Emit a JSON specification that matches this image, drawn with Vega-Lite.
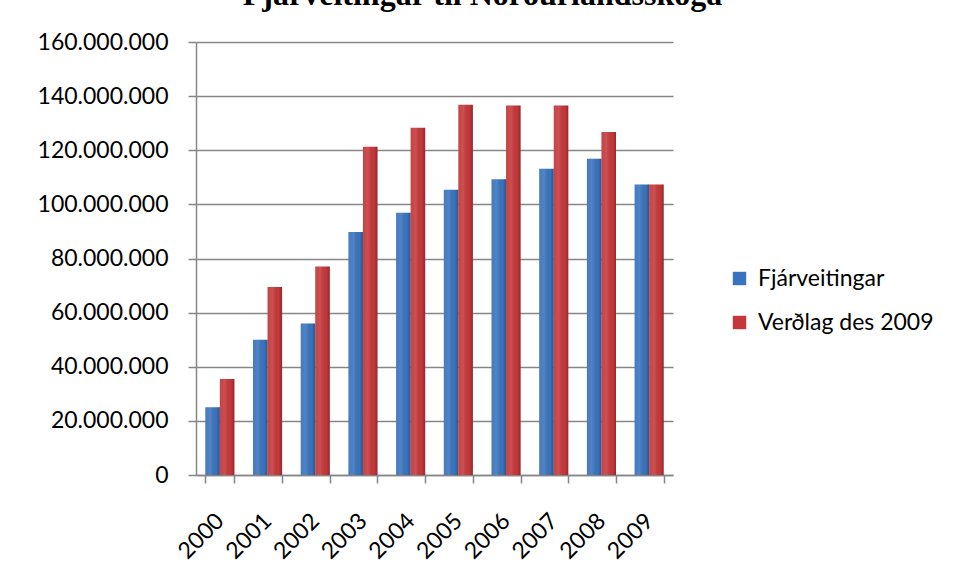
{
  "$schema": "https://vega.github.io/schema/vega-lite/v6.json",
  "autosize": {"type": "none"},
  "width": 477,
  "height": 433,
  "padding": {"left": 196, "top": 42, "right": 281, "bottom": 106},
  "background": "white",
  "title": {
    "text": "Fjárveitingar til Norðurlandsskóga",
    "font": "Liberation Serif",
    "fontSize": 32,
    "fontWeight": "bold",
    "color": "black",
    "anchor": "middle",
    "baseline": "alphabetic",
    "offset": 10,
    "dy": 16,
    "dx": 48
  },
  "data": {
    "values": [
      {"year": "2000", "series": "Fjárveitingar", "value": 25000000},
      {"year": "2000", "series": "Verðlag des 2009", "value": 35500000},
      {"year": "2001", "series": "Fjárveitingar", "value": 50000000},
      {"year": "2001", "series": "Verðlag des 2009", "value": 69500000},
      {"year": "2002", "series": "Fjárveitingar", "value": 56000000},
      {"year": "2002", "series": "Verðlag des 2009", "value": 77000000},
      {"year": "2003", "series": "Fjárveitingar", "value": 89800000},
      {"year": "2003", "series": "Verðlag des 2009", "value": 121300000},
      {"year": "2004", "series": "Fjárveitingar", "value": 96900000},
      {"year": "2004", "series": "Verðlag des 2009", "value": 128300000},
      {"year": "2005", "series": "Fjárveitingar", "value": 105400000},
      {"year": "2005", "series": "Verðlag des 2009", "value": 136800000},
      {"year": "2006", "series": "Fjárveitingar", "value": 109300000},
      {"year": "2006", "series": "Verðlag des 2009", "value": 136500000},
      {"year": "2007", "series": "Fjárveitingar", "value": 113200000},
      {"year": "2007", "series": "Verðlag des 2009", "value": 136500000},
      {"year": "2008", "series": "Fjárveitingar", "value": 116900000},
      {"year": "2008", "series": "Verðlag des 2009", "value": 126700000},
      {"year": "2009", "series": "Fjárveitingar", "value": 107300000},
      {"year": "2009", "series": "Verðlag des 2009", "value": 107300000}
    ]
  },
  "encoding": {
    "x": {
      "field": "year",
      "type": "nominal",
      "title": null,
      "scale": {"paddingInner": 0.39, "paddingOuter": 0.195},
      "axis": {
        "labelAngle": -45,
        "labelAlign": "right",
        "labelBaseline": "middle",
        "labelPadding": 34,
        "tickBand": "extent",
        "tickSize": 8,
        "tickColor": "#868686",
        "tickWidth": 1.5,
        "domainColor": "#868686",
        "domainWidth": 1.5,
        "grid": false
      }
    },
    "xOffset": {"field": "series", "type": "nominal", "sort": ["Fjárveitingar", "Verðlag des 2009"]},
    "y": {
      "field": "value",
      "type": "quantitative",
      "title": null,
      "scale": {"domain": [0, 160000000], "nice": false},
      "axis": {
        "values": [0, 20000000, 40000000, 60000000, 80000000, 100000000, 120000000, 140000000, 160000000],
        "format": ",d",
        "tickSize": 8,
        "tickColor": "#868686",
        "tickWidth": 1.5,
        "domainColor": "#868686",
        "domainWidth": 1.5,
        "gridColor": "#868686",
        "gridWidth": 1.5,
        "labelPadding": 20
      }
    }
  },
  "layer": [
    {
      "mark": {"type": "bar", "stroke": null},
      "encoding": {
        "color": {
          "field": "series",
          "type": "nominal",
          "sort": ["Fjárveitingar", "Verðlag des 2009"],
          "scale": {"domain": ["Fjárveitingar", "Verðlag des 2009"], "range": ["#3A73BC", "#C4383A"]},
          "legend": {
            "title": null,
            "orient": "none",
            "legendX": 532,
            "legendY": 225,
            "symbolType": "square",
            "symbolSize": 180,
            "symbolStrokeWidth": 0,
            "rowPadding": 20,
            "labelOffset": 7,
            "labelFontSize": 23,
            "labelFont": "Lato",
            "labelColor": "black",
            "labelLimit": 300
          }
        }
      }
    },
    {
      "mark": {
        "type": "bar",
        "stroke": null,
        "fill": {
          "gradient": "linear",
          "x1": 0, "y1": 0, "x2": 1, "y2": 0,
          "stops": [
            {"offset": 0, "color": "rgba(255,255,255,0.05)"},
            {"offset": 0.35, "color": "rgba(255,255,255,0.12)"},
            {"offset": 0.75, "color": "rgba(0,0,0,0.0)"},
            {"offset": 1, "color": "rgba(0,0,0,0.25)"}
          ]
        }
      },
      "encoding": {}
    }
  ],
  "config": {
    "locale": {
      "number": {"decimal": ",", "thousands": ".", "grouping": [3], "currency": ["", ""]}
    },
    "view": {"stroke": null},
    "axis": {
      "labelFont": "Lato",
      "labelFontSize": 23,
      "labelColor": "black"
    }
  }
}
